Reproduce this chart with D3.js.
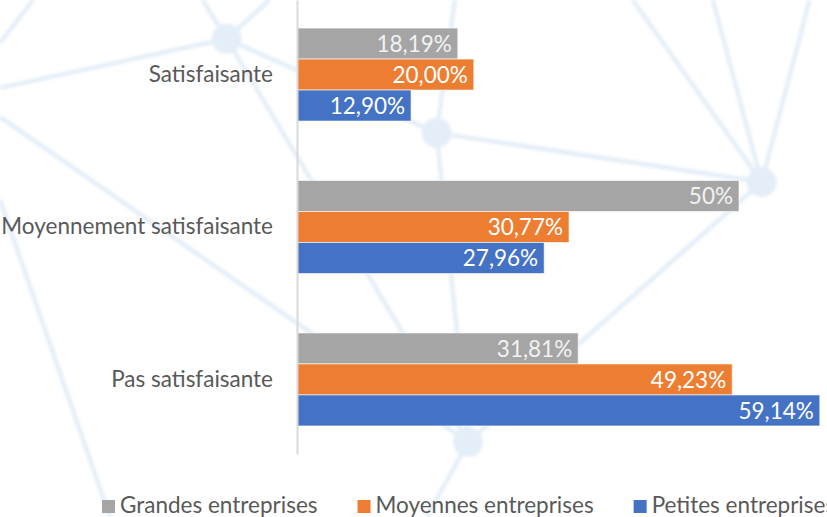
<!DOCTYPE html>
<html><head><meta charset="utf-8">
<script src="https://cdn.jsdelivr.net/npm/d3@7"></script>
<style>
html,body{margin:0;padding:0;background:#fff;}
svg{display:block;}
text{font-family:Lato,"Open Sans",sans-serif;}
</style></head>
<body>
<script>
const categories = ["Satisfaisante","Moyennement satisfaisante","Pas satisfaisante"];
const seriesNames = ["Grandes entreprises","Moyennes entreprises","Petites entreprises"];
const grandes = [18.19, 50, 31.81];
const moyennes = [20.00, 30.77, 49.23];
const petites = [12.90, 27.96, 59.14];
const valueLabels = [
  ["18,19%","50%","31,81%"],
  ["20,00%","30,77%","49,23%"],
  ["12,90%","27,96%","59,14%"]
];
const colors = ["#a5a5a5","#ed7d31","#4472c4"];

const W = 827, H = 517;
const svg = d3.select("body").append("svg").attr("width", W).attr("height", H);

const defs = svg.append("defs");
defs.append("filter").attr("id","soft").append("feGaussianBlur").attr("stdDeviation",1.5);

// decorative faint network background (relative to canvas)
const bgNodes = [[0.274,0.075],[0.528,0.257],[0.921,0.352],[0.566,0.855]];
const bgEdges = [
  [[0.274,0.075],[0,0.170]],[[0.274,0.075],[0.245,0]],[[0.274,0.075],[0.326,0]],
  [[0.274,0.075],[0.528,0.257]],[[0.274,0.075],[0.566,0.855]],
  [[0,0.226],[0.566,0.855]],[[0,0.387],[0.133,1]],[[0.040,0],[0,0.083]],
  [[0.528,0.257],[0.921,0.352]],[[0.528,0.257],[0.550,0]],[[0.528,0.257],[0.566,0.855]],
  [[0.921,0.352],[0.765,0]],[[0.921,0.352],[0.862,0]],[[0.921,0.352],[0.979,0]],
  [[0.921,0.352],[0.566,0.855]],[[0.566,0.855],[0.516,1]]
];
const bg = svg.append("g").attr("filter","url(#soft)");
bg.selectAll("line").data(bgEdges).join("line")
  .attr("x1",d=>d[0][0]*W).attr("y1",d=>d[0][1]*H)
  .attr("x2",d=>d[1][0]*W).attr("y2",d=>d[1][1]*H)
  .attr("stroke","#e4eef8").attr("stroke-width",4.5);
bg.selectAll("circle").data(bgNodes).join("circle")
  .attr("cx",d=>d[0]*W).attr("cy",d=>d[1]*H).attr("r",15)
  .attr("fill","#e4eef8");

const margin = {left: 297, top: 0, right: 7, bottom: 63};
const x = d3.scaleLinear().domain([0, 50]).range([margin.left, margin.left + 442]);
const y0 = d3.scaleBand().domain(categories).range([margin.top, H - margin.bottom])
  .paddingInner(0.39).paddingOuter(0.184);
const y1 = d3.scaleBand().domain(seriesNames).range([0, y0.bandwidth()]);

const series = [grandes, moyennes, petites];
const rows = [];
series.forEach((vals, si) => vals.forEach((v, ci) => rows.push({si, ci, v, label: valueLabels[si][ci]})));

const g = svg.append("g");
g.selectAll("rect.bar").data(rows).join("rect").attr("class","bar")
  .attr("x", x(0))
  .attr("y", d => y0(categories[d.ci]) + y1(seriesNames[d.si]))
  .attr("width", d => x(d.v) - x(0))
  .attr("height", y1.bandwidth())
  .attr("fill", d => colors[d.si])
  .attr("stroke", "#ffffff").attr("stroke-opacity", 0.6).attr("stroke-width", 1);

g.selectAll("text.val").data(rows).join("text").attr("class","val")
  .attr("x", d => x(d.v) - 6)
  .attr("y", d => y0(categories[d.ci]) + y1(seriesNames[d.si]) + y1.bandwidth()/2)
  .attr("dy", "0.36em")
  .attr("text-anchor", "end")
  .attr("fill", d => d.si === 0 ? "#f2f2f2" : "#ffffff")
  .attr("font-size", 22.5)
  .text(d => d.label);

// axis
const yAxis = d3.axisLeft(y0).tickSize(0).tickPadding(24);
const ax = svg.append("g").attr("transform", `translate(${x(0)},0)`).call(yAxis);
ax.select(".domain").attr("stroke", "#d9d9d9").attr("stroke-width", 2);
ax.selectAll("text").attr("font-size", 22.5).attr("fill", "#595959")
  .attr("font-family", "Lato, 'Open Sans', sans-serif");

// legend
const leg = svg.append("g").attr("transform", "translate(102, 513)");
let lx = 0;
seriesNames.forEach((name, i) => {
  const item = leg.append("g").attr("transform", `translate(${lx},0)`);
  item.append("rect").attr("x",0).attr("y",-13).attr("width",13).attr("height",13).attr("fill",colors[i]);
  const t = item.append("text").attr("x",18).attr("y",0)
    .attr("font-size",22.5).attr("fill","#595959").text(name);
  lx += 18 + t.node().getComputedTextLength() + 40;
});
</script>
</body></html>
